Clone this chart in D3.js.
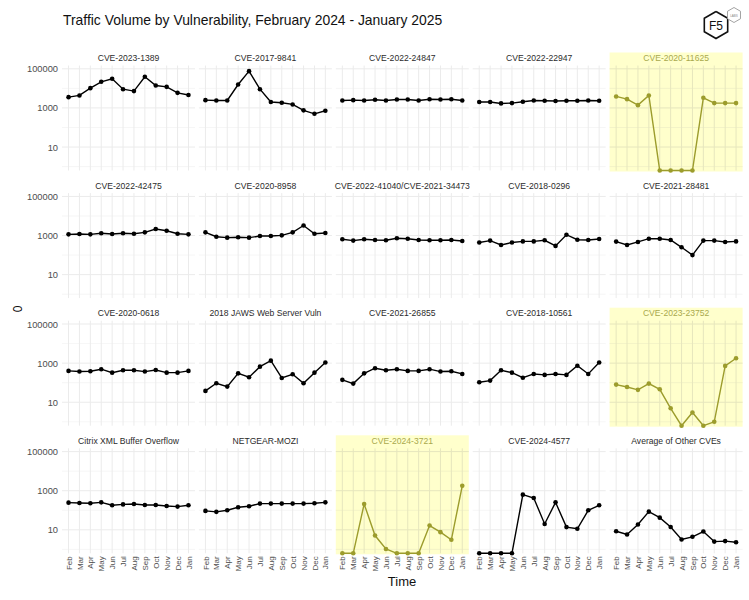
<!DOCTYPE html>
<html>
<head>
<meta charset="utf-8">
<script src="https://cdn.jsdelivr.net/npm/d3@7"></script>
<style>
  html, body { margin: 0; padding: 0; background: #ffffff; }
  svg { display: block; font-family: "Liberation Sans", Arial, Helvetica, sans-serif; }
</style>
</head>
<body>
<svg id="chart" width="749" height="600"></svg>
<script>
// ---------------- DATA ----------------
const months = ["Feb","Mar","Apr","May","Jun","Jul","Aug","Sep","Oct","Nov","Dec","Jan"];
const yTicksMajor = [10, 1000, 100000];
const yTicksMinor = [1, 100, 10000];

const cve2023_1389 = [3550, 4360, 10300, 21700, 31000, 9100, 7250, 39000, 14100, 12000, 5900, 4600];
const cve2017_9841 = [2500, 2400, 2400, 15800, 76000, 9100, 2000, 1830, 1510, 750, 500, 720];
const cve2022_24847 = [2400, 2500, 2400, 2600, 2400, 2700, 2700, 2400, 2800, 2700, 2800, 2400];
const cve2022_22947 = [2000, 2000, 1700, 1770, 2060, 2400, 2330, 2250, 2330, 2330, 2400, 2330];
const cve2020_11625 = [3870, 2820, 1390, 4330, 0, 0, 0, 0, 3300, 1770, 1770, 1770];

const cve2022_42475 = [1150, 1200, 1150, 1300, 1200, 1300, 1240, 1450, 2140, 1750, 1240, 1150];
const cve2020_8958 = [1450, 870, 780, 810, 780, 940, 940, 1020, 1450, 3250, 1240, 1340];
const cve2022_41040 = [650, 550, 650, 590, 570, 720, 690, 590, 570, 570, 590, 525];
const cve2018_0296 = [440, 550, 330, 440, 500, 500, 570, 295, 1100, 610, 590, 660];
const cve2021_28481 = [490, 330, 470, 690, 690, 590, 250, 100, 550, 550, 470, 500];

const cve2020_0618 = [400, 370, 385, 490, 325, 430, 430, 370, 445, 325, 325, 400];
const jaws2018 = [38, 93, 63, 300, 190, 660, 1340, 175, 270, 93, 325, 1070];
const cve2021_26855 = [140, 90, 300, 550, 430, 490, 400, 400, 490, 370, 385, 280];
const cve2018_10561 = [105, 128, 430, 325, 180, 280, 250, 280, 250, 740, 280, 1070];
const cve2023_23752 = [80, 60, 43, 90, 46, 4.9, 0, 3.0, 0, 1.0, 720, 1780];

const citrixXml = [245, 235, 228, 255, 180, 200, 210, 186, 186, 166, 154, 180];
const netgearMozi = [93, 83, 100, 142, 160, 220, 220, 220, 220, 220, 228, 255];
const cve2024_3721 = [0, 0, 210, 5.1, 1.05, 0, 0, 0, 16.6, 7.6, 3.1, 1790];
const cve2024_4577 = [0, 0, 0, 0, 630, 425, 20, 255, 13.8, 11.3, 100, 180];
const otherAverage = [8.5, 5.8, 18.6, 85, 42, 14, 3.2, 4.4, 8.2, 2.5, 2.65, 2.3];

const panelNames = [
  "CVE-2023-1389", "CVE-2017-9841", "CVE-2022-24847", "CVE-2022-22947", "CVE-2020-11625",
  "CVE-2022-42475", "CVE-2020-8958", "CVE-2022-41040/CVE-2021-34473", "CVE-2018-0296", "CVE-2021-28481",
  "CVE-2020-0618", "2018 JAWS Web Server Vuln", "CVE-2021-26855", "CVE-2018-10561", "CVE-2023-23752",
  "Citrix XML Buffer Overflow", "NETGEAR-MOZI", "CVE-2024-3721", "CVE-2024-4577", "Average of Other CVEs"
];
const panelValues = [
  cve2023_1389, cve2017_9841, cve2022_24847, cve2022_22947, cve2020_11625,
  cve2022_42475, cve2020_8958, cve2022_41040, cve2018_0296, cve2021_28481,
  cve2020_0618, jaws2018, cve2021_26855, cve2018_10561, cve2023_23752,
  citrixXml, netgearMozi, cve2024_3721, cve2024_4577, otherAverage
];
const highlighted = ["CVE-2020-11625", "CVE-2023-23752", "CVE-2024-3721"];

// ---------------- LAYOUT ----------------
const svg = d3.select("#chart");
const nCols = 5;
const panelW = 133, panelH = 105;
const colStep = 136.9, rowStep = 127.6;
const left0 = 62, top0 = 65.5;

const x = d3.scalePoint().domain(months).range([0, panelW]).padding(0.6);
const y = d3.scaleLog().domain([Math.pow(10, -0.2), Math.pow(10, 5.17)]).range([panelH, 0]).clamp(true);
const yv = v => y(Math.max(v, y.domain()[0]));

const lineColor = "#000000", hiColor = "#9c9c2c", hiStrip = "#a9a94c", hiFill = "#ffffcc";

// title
svg.append("text").attr("x", 63).attr("y", 25)
  .attr("font-size", 13.9).attr("fill", "#111").text("Traffic Volume by Vulnerability, February 2024 - January 2025");

// logo
(function () {
  const hex = (cx, cy, r) => d3.range(7).map(i => {
    const a = Math.PI / 180 * (60 * i - 90);
    return [cx + r * Math.cos(a), cy + r * Math.sin(a)];
  });
  const g = svg.append("g");
  g.append("path").attr("d", d3.line()(hex(716, 25, 13.5))).attr("fill", "#fff").attr("stroke", "#111").attr("stroke-width", 1.6);
  g.append("text").attr("x", 716).attr("y", 29.5).attr("text-anchor", "middle").attr("font-size", 12).attr("fill", "#111").text("F5");
  g.append("path").attr("d", d3.line()(hex(734, 15, 7.5))).attr("fill", "#fff").attr("stroke", "#999").attr("stroke-width", 0.9);
  g.append("text").attr("x", 734).attr("y", 16.5).attr("text-anchor", "middle").attr("font-size", 3).attr("fill", "#888").text("LABS");
})();

// panels
panelNames.forEach((name, i) => {
  const col = i % nCols, row = Math.floor(i / nCols);
  const px = left0 + col * colStep, py = top0 + row * rowStep;
  const hi = highlighted.includes(name);
  const g = svg.append("g").attr("transform", `translate(${px},${py})`);

  if (hi) {
    g.append("rect").attr("x", 0).attr("y", -13).attr("width", panelW).attr("height", panelH + 14).attr("fill", hiFill);
  }
  // minor grid
  g.selectAll(".gmin").data(yTicksMinor).enter().append("line")
    .attr("x1", 0).attr("x2", panelW).attr("y1", d => y(d)).attr("y2", d => y(d))
    .attr("stroke", hi ? "#eeeec4" : "#f2f2f2").attr("stroke-width", 0.7);
  // major grid
  g.selectAll(".gmaj").data(yTicksMajor).enter().append("line")
    .attr("x1", 0).attr("x2", panelW).attr("y1", d => y(d)).attr("y2", d => y(d))
    .attr("stroke", hi ? "#e6e6bd" : "#ebebeb").attr("stroke-width", 1);
  g.selectAll(".gx").data(months).enter().append("line")
    .attr("x1", d => x(d)).attr("x2", d => x(d)).attr("y1", 0).attr("y2", panelH)
    .attr("stroke", hi ? "#e6e6bd" : "#ebebeb").attr("stroke-width", 1);

  // strip title
  g.append("text").attr("x", panelW / 2).attr("y", -4.3).attr("text-anchor", "middle")
    .attr("font-size", 8.6).attr("fill", hi ? hiStrip : "#2b2b2b").text(name);

  const vals = panelValues[i];
  const pts = months.map((m, k) => ({ m, v: vals[k] }));
  const c = hi ? hiColor : lineColor;
  g.append("path").datum(pts)
    .attr("d", d3.line().x(d => x(d.m)).y(d => yv(d.v)))
    .attr("fill", "none").attr("stroke", c).attr("stroke-width", 1.4);
  g.selectAll(".pt").data(pts).enter().append("circle")
    .attr("cx", d => x(d.m)).attr("cy", d => yv(d.v)).attr("r", 2.3).attr("fill", c);

  // y axis labels (left column)
  if (col === 0) {
    const ax = d3.axisLeft(y).tickValues(yTicksMajor).tickFormat(d3.format("d")).tickSize(0).tickPadding(4);
    const a = g.append("g").call(ax);
    a.select(".domain").remove();
    a.selectAll("text").attr("font-size", 9.3).attr("fill", "#4d4d4d").attr("font-family", "Liberation Sans, Arial, sans-serif");
  }
  // x axis labels (bottom row)
  if (row === 3) {
    const ax = d3.axisBottom(x).tickSize(0).tickPadding(0);
    const a = g.append("g").attr("transform", `translate(0,${panelH})`).call(ax);
    a.select(".domain").remove();
    a.selectAll("text")
      .attr("font-size", 8).attr("fill", "#4d4d4d").attr("font-family", "Liberation Sans, Arial, sans-serif")
      .attr("text-anchor", "end").attr("transform", "translate(0,3) rotate(-90)")
      .attr("x", 0).attr("y", 0).attr("dy", "0.32em");
  }
});

// axis titles
svg.append("text").attr("x", 402).attr("y", 586).attr("text-anchor", "middle")
  .attr("font-size", 13).attr("fill", "#111").text("Time");
svg.append("text").attr("transform", "translate(22,309) rotate(-90)").attr("text-anchor", "middle")
  .attr("font-size", 12).attr("fill", "#111").text("0");
</script>
</body>
</html>
